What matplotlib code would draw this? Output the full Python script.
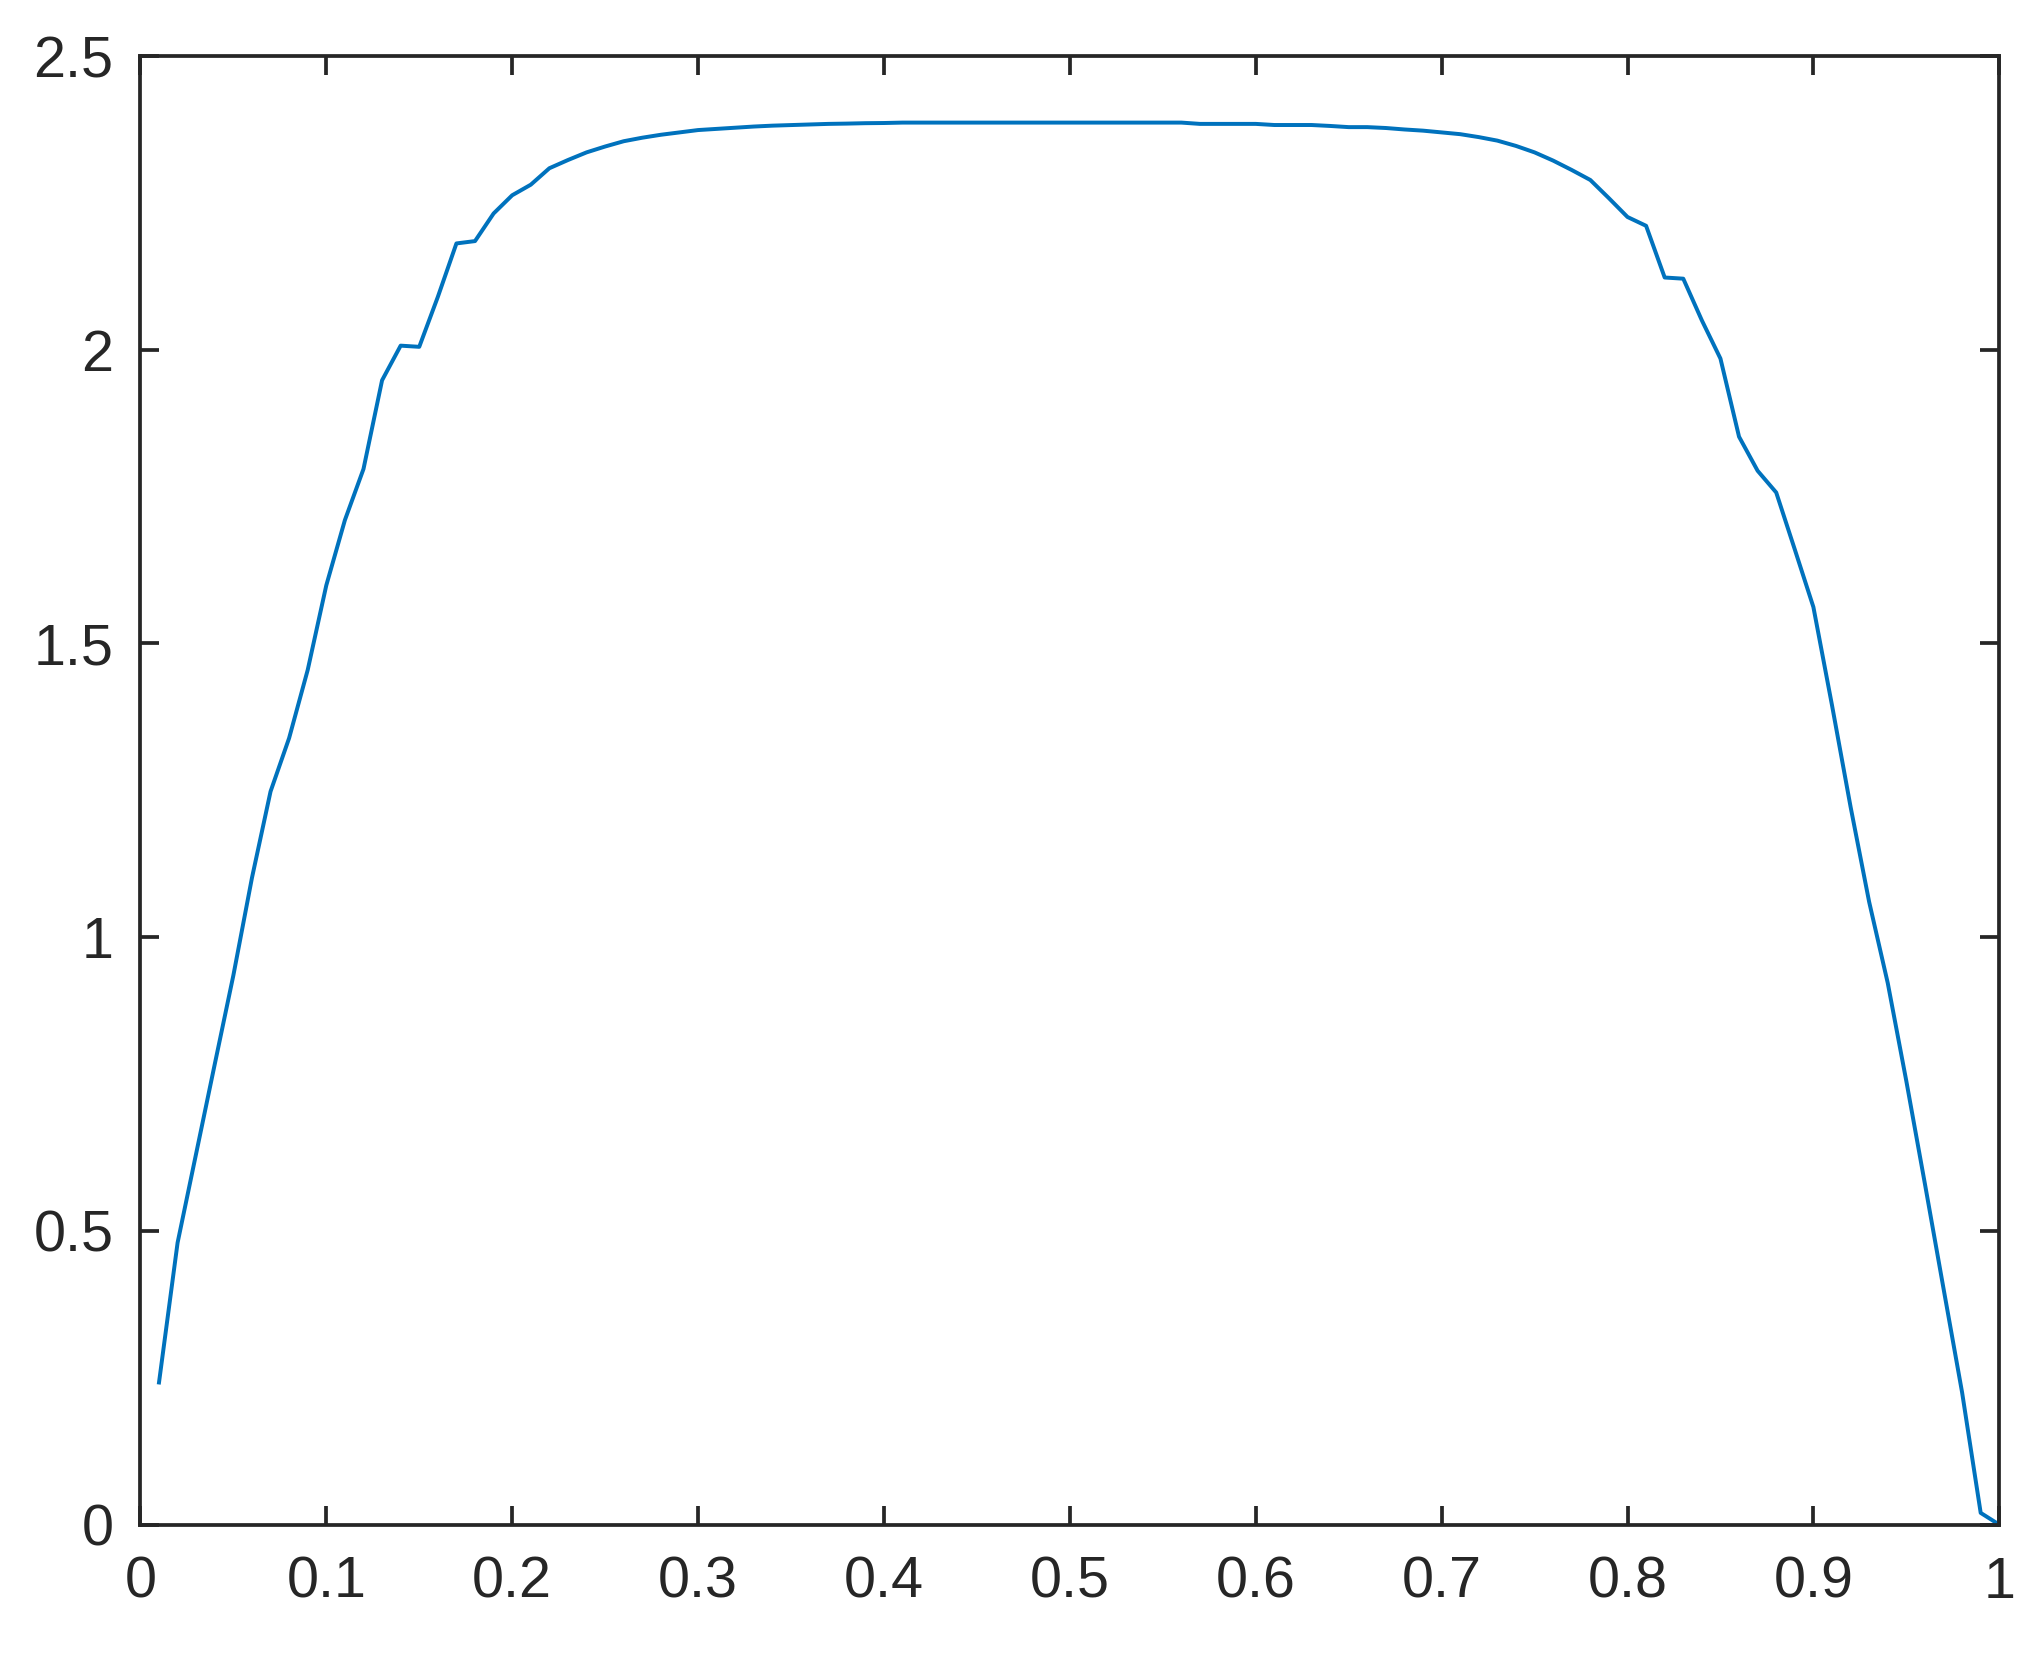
import matplotlib
matplotlib.use("Agg")
import matplotlib.pyplot as plt

x = [i / 100 for i in range(1, 101)]
y = [0.242, 0.480, 0.632, 0.784, 0.935, 1.101, 1.248, 1.339, 1.455, 1.599,
     1.710, 1.797, 1.948, 2.007, 2.005, 2.090, 2.181, 2.185, 2.232, 2.263,
     2.281, 2.309, 2.323, 2.336, 2.346, 2.355, 2.361, 2.366, 2.370, 2.374,
     2.376, 2.378, 2.380, 2.3815, 2.3825, 2.3835, 2.3845, 2.385, 2.3857, 2.386,
     2.3867, 2.3867, 2.3867, 2.3867, 2.3867, 2.3867, 2.3867, 2.3867, 2.3867, 2.3867,
     2.3867, 2.3867, 2.3867, 2.3867, 2.3867, 2.3867, 2.3845, 2.3845, 2.3845, 2.3845,
     2.3826, 2.3826, 2.3826, 2.381, 2.379, 2.379, 2.3775, 2.375, 2.373, 2.370,
     2.367, 2.362, 2.356, 2.347, 2.336, 2.322, 2.306, 2.289, 2.258, 2.226,
     2.211, 2.123, 2.121, 2.050, 1.985, 1.852, 1.794, 1.757, 1.660, 1.562,
     1.395, 1.222, 1.060, 0.922, 0.755, 0.580, 0.402, 0.225, 0.020, 0.0]

xticks = [0, 0.1, 0.2, 0.3, 0.4, 0.5, 0.6, 0.7, 0.8, 0.9, 1]
xlabels = ["0", "0.1", "0.2", "0.3", "0.4", "0.5", "0.6", "0.7", "0.8", "0.9", "1"]
yticks = [0, 0.5, 1, 1.5, 2, 2.5]
ylabels = ["0", "0.5", "1", "1.5", "2", "2.5"]

plt.rcParams["font.family"] = ["Liberation Sans", "DejaVu Sans"]
dark = "#262626"

fig = plt.figure(figsize=(2038 / 300, 1663 / 300), dpi=300)
ax = fig.add_axes([0.0689, 0.0832, 0.981 - 0.0689, 0.9663 - 0.0832])
ax.plot(x, y, color="#0072BD", linewidth=0.95)

ax.set_xlim(0, 1)
ax.set_ylim(0, 2.5)
ax.set_xticks(xticks)
ax.set_xticklabels(xlabels)
ax.set_yticks(yticks)
ax.set_yticklabels(ylabels)

for s in ax.spines.values():
    s.set_color(dark)
    s.set_linewidth(0.9)
ax.tick_params(axis="both", direction="in", top=True, right=True,
               length=4.5, width=0.9, color=dark, labelcolor=dark, labelsize=13.8)
ax.tick_params(axis="x", pad=7.5)
ax.tick_params(axis="y", pad=6.5)

fig.savefig("out.png", dpi=300)
